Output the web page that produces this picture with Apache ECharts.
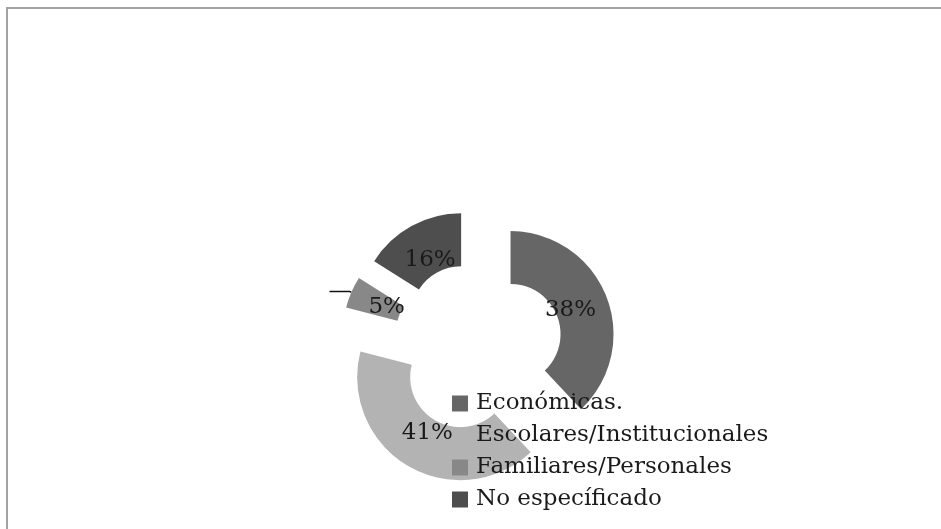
<!DOCTYPE html>
<html>
<head>
<meta charset="utf-8">
<script src="https://cdn.jsdelivr.net/npm/echarts@6/dist/echarts.min.js"></script>
<style>
  html, body { margin: 0; padding: 0; background: #ffffff; overflow: hidden; }
  #frame {
    position: absolute; left: 6px; top: 7px; width: 1000px; height: 600px;
    border-left: 2px solid #a3a3a3; border-top: 2px solid #a3a3a3;
  }
  #chart { position: absolute; left: 0; top: 0; width: 941px; height: 529px; }
</style>
</head>
<body>
<div id="frame"></div>
<div id="chart"></div>
<script>
// Motivos: share of each category (percent)
const categories = ['Económicas.', 'Escolares/Institucionales', 'Familiares/Personales', 'No específicado'];
const shares = [38, 41, 5, 16];
const sliceColors = ['#666666', '#b3b3b3', '#888888', '#4e4e4e'];
// category whose label keeps a short leader line
const leaderCategory = 'Familiares/Personales';

const chart = echarts.init(document.getElementById('chart'), null, { renderer: 'canvas' });

const textFont = { fontFamily: 'DejaVu Serif', fontSize: 23, color: '#1a1a1a' };

// exploded ring slices
const ringData = categories.map((name, i) => ({
  name: name,
  value: shares[i],
  selected: true,
  itemStyle: { color: sliceColors[i] }
}));

// same values, used only to place the percentage labels a bit closer to the centre
const labelData = categories.map((name, i) => ({
  name: name,
  value: shares[i],
  selected: true
}));

// same values again, drawing only the leader line of one slice
const leaderData = categories.map((name, i) => {
  const item = { name: name, value: shares[i], selected: true };
  if (name === leaderCategory) {
    item.label = { show: true, position: 'outside', formatter: ' ' };
    item.labelLine = { show: true, length: 2, length2: 20 };
  }
  return item;
});

const common = {
  type: 'pie',
  center: [478, 347],
  radius: [50, 103],
  startAngle: 90,
  clockwise: true,
  selectedMode: 'multiple',
  avoidLabelOverlap: false,
  silent: true,
  labelLine: { show: false },
  emphasis: { disabled: true }
};

const clear = 'rgba(0,0,0,0)';

chart.setOption({
  animation: false,
  legend: {
    orient: 'vertical',
    left: 447,
    top: 387,
    itemWidth: 16,
    itemHeight: 16,
    itemGap: 9,
    icon: 'rect',
    selectedMode: false,
    textStyle: Object.assign({}, textFont, { lineHeight: 23, padding: [0, 0, 0, 3] }),
    data: categories
  },
  series: [
    Object.assign({}, common, {
      name: 'ring',
      selectedOffset: 35,
      label: { show: false },
      select: { itemStyle: { borderWidth: 0 } },
      data: ringData,
      z: 1
    }),
    Object.assign({}, common, {
      name: 'leader',
      selectedOffset: 35,
      itemStyle: { color: clear },
      select: { itemStyle: { color: clear, borderWidth: 0 } },
      label: { show: false },
      labelLine: { show: false, lineStyle: { color: '#111111', width: 1.5 } },
      data: leaderData,
      z: 1
    }),
    Object.assign({}, common, {
      name: 'labels',
      selectedOffset: 20,
      itemStyle: { color: clear },
      select: { itemStyle: { color: clear, borderWidth: 0 }, label: textFont },
      label: Object.assign({ show: true, position: 'inside', formatter: '{c}%' }, textFont),
      data: labelData,
      z: 2
    })
  ]
});
</script>
</body>
</html>
